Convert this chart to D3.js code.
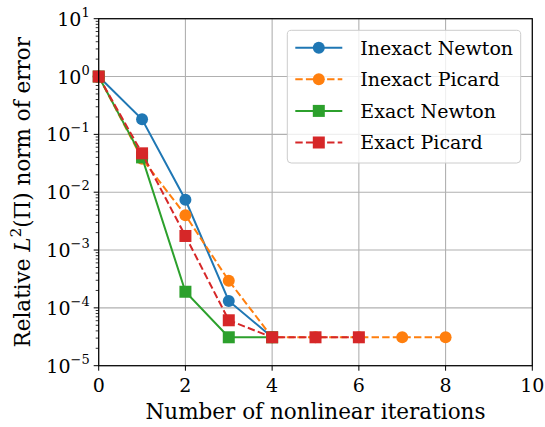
<!DOCTYPE html>
<html>
<head>
<meta charset="utf-8">
<script src="https://cdn.jsdelivr.net/npm/d3@7"></script>
<style>
  body { margin: 0; background: #fff; }
</style>
</head>
<body>
<div id="chart"></div>
<script>
// data
const inexactNewtonX = [0, 1, 2, 3, 4];
const inexactNewtonY = [1, 0.182, 7.4e-3, 1.32e-4, 3.1e-5];
const inexactPicardX = [0, 1, 2, 3, 4, 5, 6, 7, 8];
const inexactPicardY = [1, 0.038, 4.0e-3, 2.95e-4, 3.1e-5, 3.1e-5, 3.1e-5, 3.1e-5, 3.1e-5];
const exactNewtonX = [0, 1, 2, 3, 4];
const exactNewtonY = [1, 0.04, 1.9e-4, 3.1e-5, 3.1e-5];
const exactPicardX = [0, 1, 2, 3, 4, 5, 6];
const exactPicardY = [1, 0.047, 1.75e-3, 6.1e-5, 3.1e-5, 3.1e-5, 3.1e-5];

const xTicks = [0, 2, 4, 6, 8, 10];
const yExponents = [1, 0, -1, -2, -3, -4, -5];

const seriesNames = ["Inexact Newton", "Inexact Picard", "Exact Newton", "Exact Picard"];
const seriesColors = ["#1f77b4", "#ff7f0e", "#2ca02c", "#d62728"];
const seriesMarkers = ["circle", "circle", "square", "square"];
const seriesDashed = [false, true, false, true];

let margin = {top: 18.7, right: 12.7, bottom: 61.3, left: 98.7},
    width = 545 - margin.left - margin.right,
    height = 427 - margin.top - margin.bottom;

let x = d3.scaleLinear().domain([0, 10]).range([0, width]);
let y = d3.scaleLog().domain([1e-5, 10]).range([height, 0]);

let svg = d3.select("#chart").append("svg")
    .attr("width", 545).attr("height", 427)
    .attr("font-family", "'DejaVu Serif', serif")
  .append("g")
    .attr("transform", "translate(" + margin.left + "," + margin.top + ")");

// grid
svg.append("g").selectAll("line").data(xTicks).join("line")
    .attr("x1", d => x(d)).attr("x2", d => x(d))
    .attr("y1", 0).attr("y2", height)
    .attr("stroke", "#b0b0b0").attr("stroke-width", 1.1);
svg.append("g").selectAll("line").data(yExponents).join("line")
    .attr("x1", 0).attr("x2", width)
    .attr("y1", d => y(Math.pow(10, d))).attr("y2", d => y(Math.pow(10, d)))
    .attr("stroke", "#b0b0b0").attr("stroke-width", 1.1);

// minor y ticks
let minor = [];
for (let e = -5; e < 1; e++) for (let k = 2; k < 10; k++) minor.push(k * Math.pow(10, e));
svg.append("g").selectAll("line").data(minor).join("line")
    .attr("x1", -3).attr("x2", 0)
    .attr("y1", d => y(d)).attr("y2", d => y(d))
    .attr("stroke", "#000").attr("stroke-width", 0.8);

// major ticks
svg.append("g").selectAll("line").data(yExponents).join("line")
    .attr("x1", -5).attr("x2", 0)
    .attr("y1", d => y(Math.pow(10, d))).attr("y2", d => y(Math.pow(10, d)))
    .attr("stroke", "#000").attr("stroke-width", 1);
svg.append("g").selectAll("line").data(xTicks).join("line")
    .attr("x1", d => x(d)).attr("x2", d => x(d))
    .attr("y1", height).attr("y2", height + 5)
    .attr("stroke", "#000").attr("stroke-width", 1);

// tick labels
svg.append("g").selectAll("text").data(xTicks).join("text")
    .attr("x", d => x(d)).attr("y", height + 26)
    .attr("text-anchor", "middle").attr("font-size", 19)
    .text(d => d);

let yl = svg.append("g").selectAll("text").data(yExponents).join("text")
    .attr("x", -9).attr("y", d => y(Math.pow(10, d)) + 7)
    .attr("text-anchor", "end").attr("font-size", 19);
yl.append("tspan").text("10");
yl.append("tspan").attr("dy", -9).attr("font-size", 13)
    .text(d => (d < 0 ? "\u2212" : "") + Math.abs(d));

// series
for (let i = 0; i < 4; i++) {
  let xs = [inexactNewtonX, inexactPicardX, exactNewtonX, exactPicardX][i];
  let ys = [inexactNewtonY, inexactPicardY, exactNewtonY, exactPicardY][i];
  let pts = xs.map((v, j) => [x(v), y(ys[j])]);
  svg.append("path")
      .attr("d", d3.line()(pts))
      .attr("fill", "none")
      .attr("stroke", seriesColors[i]).attr("stroke-width", 2)
      .attr("stroke-dasharray", seriesDashed[i] ? "7.4,3.2" : null);
  let g = svg.append("g");
  if (seriesMarkers[i] == "circle") {
    g.selectAll("circle").data(pts).join("circle")
        .attr("cx", d => d[0]).attr("cy", d => d[1]).attr("r", 6)
        .attr("fill", seriesColors[i]);
  } else {
    g.selectAll("rect").data(pts).join("rect")
        .attr("x", d => d[0] - 6).attr("y", d => d[1] - 6)
        .attr("width", 12).attr("height", 12)
        .attr("fill", seriesColors[i]);
  }
}

// frame
svg.append("rect").attr("width", width).attr("height", height)
    .attr("fill", "none").attr("stroke", "#000").attr("stroke-width", 1.2);

// axis titles
svg.append("text")
    .attr("x", width / 2).attr("y", height + 53)
    .attr("text-anchor", "middle").attr("font-size", 21.5)
    .text("Number of nonlinear iterations");

let yt = svg.append("text")
    .attr("transform", "translate(" + (-69) + "," + (height / 2) + ") rotate(-90)")
    .attr("text-anchor", "middle").attr("font-size", 21.5);
yt.append("tspan").text("Relative ");
yt.append("tspan").attr("font-style", "italic").text("L");
yt.append("tspan").attr("dy", -9).attr("font-size", 15).text("2");
yt.append("tspan").attr("dy", 9).text("(\u03A0) norm of error");

// legend
let lg = svg.append("g").attr("transform", "translate(" + (287.3 - margin.left) + "," + (30.3 - margin.top) + ")");
lg.append("rect").attr("width", 233.4).attr("height", 132.7).attr("rx", 4)
    .attr("fill", "#fff").attr("fill-opacity", 0.8)
    .attr("stroke", "#cccccc").attr("stroke-width", 1);
seriesNames.forEach((name, i) => {
  let ry = 17.4 + i * 31.6;
  lg.append("line").attr("x1", 8).attr("x2", 55).attr("y1", ry).attr("y2", ry)
      .attr("stroke", seriesColors[i]).attr("stroke-width", 2)
      .attr("stroke-dasharray", seriesDashed[i] ? "7.4,3.2" : null);
  if (seriesMarkers[i] == "circle")
    lg.append("circle").attr("cx", 31.5).attr("cy", ry).attr("r", 6).attr("fill", seriesColors[i]);
  else
    lg.append("rect").attr("x", 25.5).attr("y", ry - 6).attr("width", 12).attr("height", 12).attr("fill", seriesColors[i]);
  lg.append("text").attr("x", 73).attr("y", ry + 7).attr("font-size", 19).text(name);
});
</script>
</body>
</html>
